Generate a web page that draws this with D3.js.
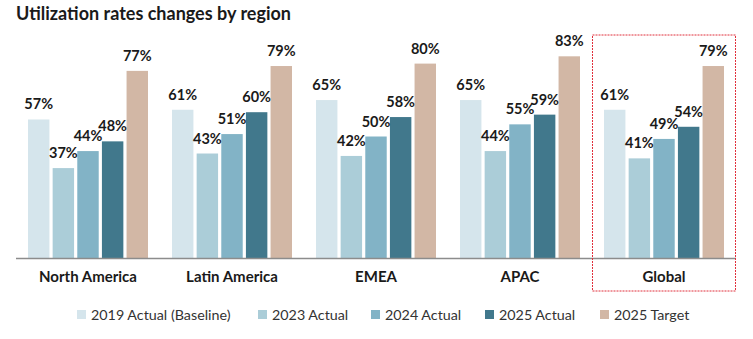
<!DOCTYPE html>
<html>
<head>
<meta charset="utf-8">
<script src="https://cdn.jsdelivr.net/npm/d3@7"></script>
<style>
  body { margin: 0; background: #fff; }
  svg { font-family: "Source Sans Pro", Lato, "Noto Sans", sans-serif; }
</style>
</head>
<body>
<div id="chart"></div>
<script>
// Chart data
const regions = ["North America", "Latin America", "EMEA", "APAC", "Global"];
const seriesNames = ["2019 Actual (Baseline)", "2023 Actual", "2024 Actual", "2025 Actual", "2025 Target"];
const actual2019 = [57, 61, 65, 65, 61];
const actual2023 = [37, 43, 42, 44, 41];
const actual2024 = [44, 51, 50, 55, 49];
const actual2025 = [48, 60, 58, 59, 54];
const target2025 = [77, 79, 80, 83, 79];
const colors = ["#d5e5ec", "#abcdd8", "#82b3c6", "#41788c", "#d2b7a5"];

const width = 753, height = 339;
const seriesValues = [actual2019, actual2023, actual2024, actual2025, target2025];

const svg = d3.select("#chart").append("svg")
    .attr("width", width)
    .attr("height", height);

// Title
svg.append("text")
    .attr("x", 16)
    .attr("y", 20)
    .style("font-size", "18px")
    .style("font-weight", "700")
    .attr("fill", "#1a1a1a")
    .text("Utilization rates changes by region");

// Scales
const x0 = d3.scaleBand().domain(regions).range([16, 736]);
const x1 = d3.scaleBand().domain(seriesNames).range([12, 132]).paddingInner(0.13);
const y = d3.scaleLinear().domain([0, 100]).range([258, 15]);
const color = d3.scaleOrdinal().domain(seriesNames).range(colors);

// Flatten to bar records
const bars = [];
regions.forEach((r, i) => {
    seriesNames.forEach((s, j) => {
        bars.push({ region: r, series: s, value: seriesValues[j][i] });
    });
});

// Bars
svg.selectAll(".bar")
    .data(bars)
    .enter()
    .append("rect")
    .attr("class", "bar")
    .attr("x", d => x0(d.region) + x1(d.series))
    .attr("width", x1.bandwidth())
    .attr("y", d => y(d.value))
    .attr("height", d => y(0) - y(d.value))
    .attr("fill", d => color(d.series));

// Value labels
svg.selectAll(".label")
    .data(bars)
    .enter()
    .append("text")
    .attr("class", "label")
    .attr("x", d => x0(d.region) + x1(d.series) + x1.bandwidth() / 2)
    .attr("y", d => y(d.value) - 10)
    .attr("text-anchor", "middle")
    .style("font-size", "14.5px")
    .style("font-weight", "700")
    .attr("fill", "#1a1a1a")
    .text(d => d.value + "%");

// Baseline axis
svg.append("line")
    .attr("x1", 16)
    .attr("x2", 736)
    .attr("y1", y(0) + 0.5)
    .attr("y2", y(0) + 0.5)
    .attr("stroke", "#8c8c8c")
    .attr("stroke-width", 1.5);

// Category labels
svg.selectAll(".cat")
    .data(regions)
    .enter()
    .append("text")
    .attr("class", "cat")
    .attr("x", d => x0(d) + x0.bandwidth() / 2)
    .attr("y", 282)
    .attr("text-anchor", "middle")
    .style("font-size", "15px")
    .style("font-weight", "700")
    .attr("fill", "#1a1a1a")
    .text(d => d);

// Highlight box around Global
svg.append("rect")
    .attr("x", x0("Global") + 0.5)
    .attr("y", 35)
    .attr("width", x0.bandwidth() - 1)
    .attr("height", 256)
    .attr("fill", "none")
    .attr("stroke", "#e0303c")
    .attr("stroke-width", 1)
    .attr("stroke-dasharray", "2,1");

// Legend
const legendX = [77, 258, 371, 485, 600];
const legend = svg.selectAll(".legend")
    .data(seriesNames)
    .enter()
    .append("g")
    .attr("class", "legend")
    .attr("transform", (d, i) => "translate(" + legendX[i] + ",310)");

legend.append("rect")
    .attr("width", 9)
    .attr("height", 9)
    .attr("fill", d => color(d));

legend.append("text")
    .attr("x", 14)
    .attr("y", 10)
    .style("font-size", "14.3px")
    .attr("fill", "#333")
    .text(d => d);
</script>
</body>
</html>
